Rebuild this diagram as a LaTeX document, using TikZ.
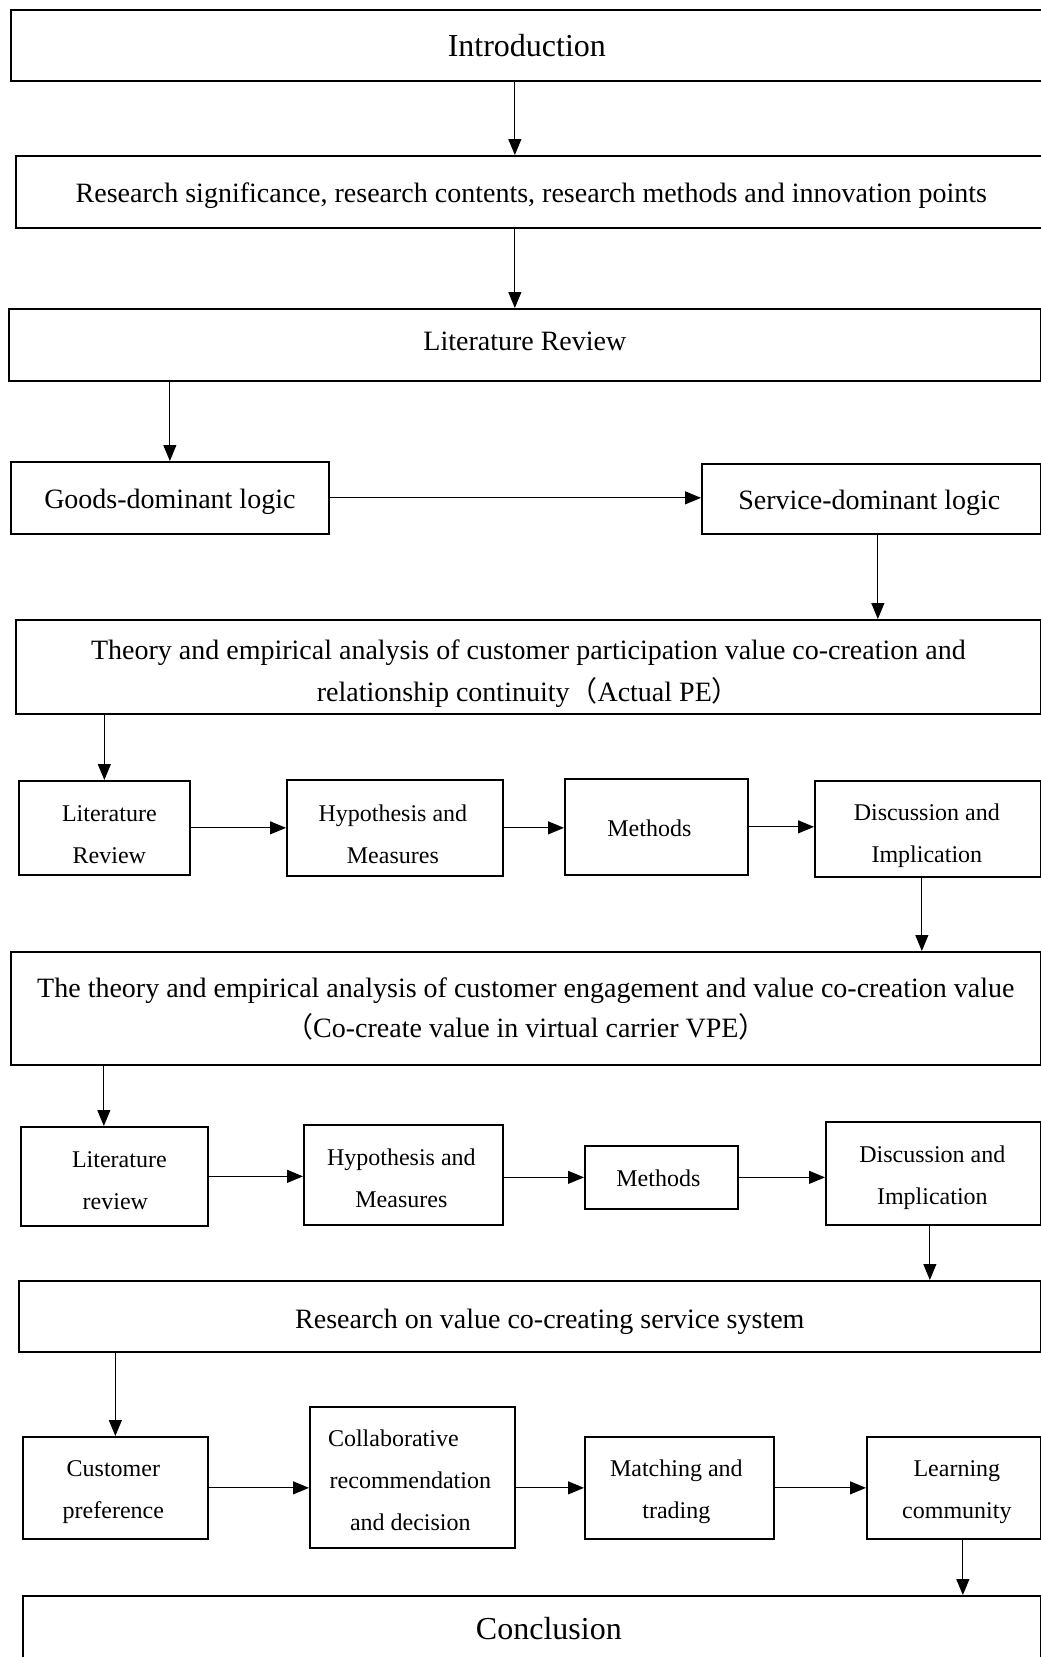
\documentclass[tikz,border=0pt]{standalone}
\usepackage{fontspec}
\setmainfont{Liberation Serif}
\newfontfamily\cjk{Noto Sans CJK SC}
\usetikzlibrary{arrows.meta}
\begin{document}
\begin{tikzpicture}[x=1pt,y=-1pt,
  box/.style={draw, line width=1.7pt, inner sep=0pt, anchor=north west},
  lbl/.style={inner sep=0pt, align=center},
  big/.style={lbl,font=\fontsize{32}{38}\selectfont},
  mid/.style={lbl,font=\fontsize{28}{42}\selectfont},
  small/.style={lbl,font=\fontsize{24}{42}\selectfont},
  arr/.style={line width=1.1pt, -{Triangle[length=16pt,width=13pt]}}]
\useasboundingbox (0,0) rectangle (1041,1657);
\clip (0,0) rectangle (1041,1657);
% boxes
\node[box,minimum width=1032pt,minimum height=71pt] (intro) at (10,9) {};
\node[box,minimum width=1027pt,minimum height=72pt] (rs) at (15,155) {};
\node[box,minimum width=1032pt,minimum height=72pt] (lit) at (8,308) {};
\node[box,minimum width=318pt,minimum height=72pt] (gd) at (10,461) {};
\node[box,minimum width=339pt,minimum height=70pt] (sd) at (701,463) {};
\node[box,minimum width=1025pt,minimum height=94pt] (th1) at (15,619) {};
\node[box,minimum width=171pt,minimum height=94pt] (lr1) at (18,780) {};
\node[box,minimum width=216pt,minimum height=96pt] (hm1) at (286,779) {};
\node[box,minimum width=183pt,minimum height=96pt] (m1) at (564,778) {};
\node[box,minimum width=226pt,minimum height=96pt] (di1) at (814,780) {};
\node[box,minimum width=1030pt,minimum height=113pt] (th2) at (10,951) {};
\node[box,minimum width=187pt,minimum height=99pt] (lr2) at (20,1126) {};
\node[box,minimum width=199pt,minimum height=100pt] (hm2) at (303,1124) {};
\node[box,minimum width=153pt,minimum height=63pt] (m2) at (584,1145) {};
\node[box,minimum width=215pt,minimum height=103pt] (di2) at (825,1121) {};
\node[box,minimum width=1022pt,minimum height=71pt] (rs2) at (18,1280) {};
\node[box,minimum width=185pt,minimum height=102pt] (cp) at (22,1436) {};
\node[box,minimum width=205pt,minimum height=141pt] (cr) at (309,1406) {};
\node[box,minimum width=189pt,minimum height=102pt] (mt) at (584,1436) {};
\node[box,minimum width=174pt,minimum height=102pt] (lc) at (866,1436) {};
\node[box,minimum width=1018pt,minimum height=66pt] (concl) at (22,1595) {};
% texts
\node[big] (introt) at (intro.center) {Introduction};
\node[mid] (rst) at ([shift={(2,3.5)}]rs.center) {Research significance, research contents, research methods and innovation points};
\node[mid] (litt) at ([shift={(0,-3.5)}]lit.center) {Literature Review};
\node[mid] (gdt) at ([shift={(0,3.5)}]gd.center) {Goods-dominant logic};
\node[mid] (sdt) at ([shift={(-2,3.5)}]sd.center) {Service-dominant logic};
\node[mid] (th1t) at ([shift={(0,7)}]th1.center) {Theory and empirical analysis of customer participation value co-creation and\\relationship continuity{\cjk （}Actual PE{\cjk ）}};
\node[small] (lr1t) at ([shift={(5,6.5)}]lr1.center) {Literature\\Review};
\node[small] (hm1t) at ([shift={(-2,6)}]hm1.center) {Hypothesis and\\Measures};
\node[small] (m1t) at ([shift={(-7,1)}]m1.center) {Methods};
\node[small] (di1t) at ([shift={(-1,7)}]di1.center) {Discussion and\\Implication};
\node[lbl,font=\fontsize{28}{40}\selectfont] (th2t) at ([shift={(0,1)}]th2.center) {The theory and empirical analysis of customer engagement and value co-creation value\\{\cjk （}Co-create value in virtual carrier VPE{\cjk ）}};
\node[small] (lr2t) at ([shift={(1,4)}]lr2.center) {\hspace*{8pt}Literature\\review};
\node[small] (hm2t) at ([shift={(-2,3)}]hm2.center) {Hypothesis and\\Measures};
\node[small] (m2t) at ([shift={(-3,1)}]m2.center) {Methods};
\node[small] (di2t) at ([shift={(-1,4)}]di2.center) {Discussion and\\Implication};
\node[mid] (rs2t) at ([shift={(20,5)}]rs2.center) {Research on value co-creating service system};
\node[small] (cpt) at ([shift={(-2,4)}]cp.center) {Customer\\preference};
\node[small] (crt) at ([shift={(-2,3)}]cr.center) {Collaborative\hspace*{34pt}\\recommendation\\and decision};
\node[small] (mtt) at ([shift={(-3,4)}]mt.center) {Matching and\\trading};
\node[small] (lct) at ([shift={(3,4)}]lc.center) {Learning\\community};
\node[big] (conclt) at ([shift={(17,0)}]concl.center) {Conclusion};
% connectors
\coordinate (a1) at ([xshift=-12pt]intro.south);
\draw[arr] (a1) -- (a1 |- rs.north);
\draw[arr] (a1 |- rs.south) -- (a1 |- lit.north);
\draw[arr] (gd.north |- lit.south) -- (gd.north);
\draw[arr] (gd.east) -- (gd.east -| sd.west);
\coordinate (a2) at ([xshift=6.5pt]sd.south);
\draw[arr] (a2) -- (a2 |- th1.north);
\draw[arr] (lr1.north |- th1.south) -- (lr1.north);
\draw[arr] (lr1.east) -- (lr1.east -| hm1.west);
\draw[arr] (hm1.east) -- (hm1.east -| m1.west);
\draw[arr] (m1.east) -- (m1.east -| di1.west);
\coordinate (a3) at ([xshift=-6pt]di1.south);
\draw[arr] (a3) -- (a3 |- th2.north);
\coordinate (a4) at ([xshift=-10.5pt]lr2.north);
\draw[arr] (a4 |- th2.south) -- (a4);
\draw[arr] (lr2.east) -- (lr2.east -| hm2.west);
\draw[arr] (m2.west -| hm2.east) -- (m2.west);
\draw[arr] (m2.east) -- (m2.east -| di2.west);
\coordinate (a5) at ([xshift=-3.5pt]di2.south);
\draw[arr] (a5) -- (a5 |- rs2.north);
\draw[arr] (cp.north |- rs2.south) -- (cp.north);
\draw[arr] (cp.east) -- (cp.east -| cr.west);
\draw[arr] (cr.east |- mt.west) -- (mt.west);
\draw[arr] (mt.east) -- (mt.east -| lc.west);
\coordinate (a6) at ([xshift=9pt]lc.south);
\draw[arr] (a6) -- (a6 |- concl.north);
\end{tikzpicture}
\end{document}
